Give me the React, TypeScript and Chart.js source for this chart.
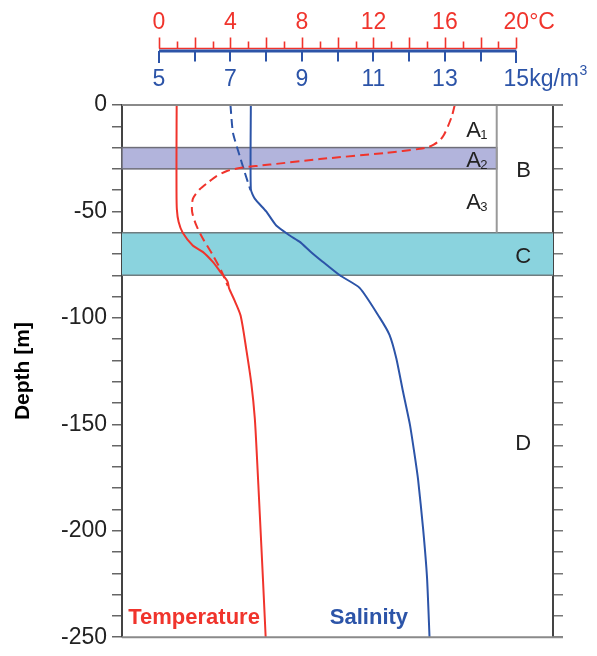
import React, { useEffect, useRef } from "react";
import { Chart, registerables } from "chart.js";

Chart.register(...registerables);

// ---- Axis ticks ----
const tempTicks = [0, 4, 8, 12, 16, 20];
const salTicks = [5, 7, 9, 11, 13, 15];

// ---- Temperature profile (solid) ----
const tempSolidDepth = [0, -20, -40, -49, -55, -60, -66, -69, -73.6, -78, -83, -86, -92, -99, -115, -131, -147, -165, -192, -223, -250];
const tempSolidValue = [0.99, 0.98, 0.98, 1.0, 1.1, 1.33, 1.89, 2.45, 3.0, 3.4, 3.84, 3.92, 4.24, 4.57, 4.89, 5.17, 5.36, 5.48, 5.64, 5.82, 5.97];

// ---- Temperature profile (dashed) ----
const tempDashDepth = [0, -5, -10, -14, -16.3, -18.5, -19.7, -20.6, -22.5, -25.4, -28, -29.5, -31, -33.5, -36, -39.6, -44, -50, -56.6, -62.8, -70.6, -78, -85];
const tempDashValue = [16.55, 16.4, 16.17, 15.95, 15.75, 15.4, 15.1, 14.6, 12.7, 9.0, 6.2, 4.6, 3.8, 3.2, 2.8, 2.28, 1.9, 1.85, 2.09, 2.46, 3.02, 3.49, 3.85];

// ---- Salinity profile (solid) ----
const salSolidDepth = [0, -39.6, -44, -50, -56.6, -61.3, -64.3, -69, -73.6, -80, -86, -100, -108, -119, -134, -150, -164, -176, -199, -222, -250];
const salSolidValue = [7.57, 7.57, 7.68, 8.0, 8.28, 8.66, 8.94, 9.25, 9.58, 10.06, 10.62, 11.18, 11.45, 11.64, 11.82, 12.02, 12.15, 12.25, 12.39, 12.5, 12.57];

// ---- Salinity profile (dashed) ----
const salDashDepth = [0, -13, -24, -31.7, -40];
const salDashValue = [7.0, 7.07, 7.26, 7.4, 7.56];

// ---- Zones (depth ranges, m) ----
const zoneA2 = [-20, -30];
const zoneB = [0, -60];
const zoneC = [-60, -80];
const zoneBEdgeTemp = 18.9; // left edge of column B in °C units

const RED = "rgb(240,52,44)";
const BLUE = "rgb(44,84,168)";
const FONT = "'Liberation Sans', Arial, Helvetica, sans-serif";

const toPts = (xs: number[], ys: number[]) => xs.map((x, i) => ({ x, y: ys[i] }));

const zonesPlugin = {
  id: "zones",
  beforeDatasetsDraw(chart: any) {
    const { ctx, chartArea, scales } = chart;
    const y = scales.y;
    const xT = scales.xT;
    const L = chartArea.left, R = chartArea.right;
    const bx = xT.getPixelForValue(zoneBEdgeTemp);
    ctx.save();
    // A2 band
    const a2t = y.getPixelForValue(zoneA2[0]);
    const a2b = y.getPixelForValue(zoneA2[1]);
    ctx.fillStyle = "rgb(178,180,220)";
    ctx.fillRect(L, a2t, bx - L, a2b - a2t);
    ctx.strokeStyle = "#6e6e78";
    ctx.lineWidth = 1.5;
    ctx.strokeRect(L, a2t, bx - L, a2b - a2t);
    // C band
    const ct = y.getPixelForValue(zoneC[0]);
    const cb = y.getPixelForValue(zoneC[1]);
    ctx.fillStyle = "rgb(138,211,222)";
    ctx.fillRect(L, ct, R - L, cb - ct);
    ctx.strokeStyle = "#6f7d80";
    ctx.beginPath();
    ctx.moveTo(L, ct); ctx.lineTo(R, ct);
    ctx.moveTo(L, cb); ctx.lineTo(R, cb);
    ctx.stroke();
    // B column edge
    ctx.strokeStyle = "#999";
    ctx.lineWidth = 2;
    ctx.beginPath();
    ctx.moveTo(bx, y.getPixelForValue(zoneB[0]));
    ctx.lineTo(bx, y.getPixelForValue(zoneB[1]));
    ctx.stroke();
    ctx.restore();
  },
  afterDatasetsDraw(chart: any) {
    const { ctx, chartArea, scales } = chart;
    const y = scales.y;
    const xT = scales.xT;
    const xS = scales.xS;
    ctx.save();
    // top / bottom frame
    ctx.strokeStyle = "#8a8a8a";
    ctx.lineWidth = 2;
    ctx.beginPath();
    ctx.moveTo(chartArea.left, chartArea.top);
    ctx.lineTo(chartArea.right + 10, chartArea.top);
    ctx.moveTo(chartArea.left, chartArea.bottom);
    ctx.lineTo(chartArea.right + 10, chartArea.bottom);
    ctx.stroke();

    // zone letters
    ctx.fillStyle = "#222";
    const drawSub = (main: string, sub: string, t: number, d: number) => {
      const px = xT.getPixelForValue(t);
      const py = y.getPixelForValue(d);
      ctx.font = `22px ${FONT}`;
      ctx.textAlign = "left";
      ctx.textBaseline = "alphabetic";
      ctx.fillText(main, px, py);
      const w = ctx.measureText(main).width;
      ctx.font = `13px ${FONT}`;
      ctx.fillText(sub, px + w - 0.5, py + 2);
    };
    drawSub("A", "1", 17.19, -14.9);
    drawSub("A", "2", 17.19, -29.0);
    drawSub("A", "3", 17.19, -49.0);
    ctx.font = `22px ${FONT}`;
    ctx.textAlign = "center";
    ctx.textBaseline = "alphabetic";
    ctx.fillText("B", xT.getPixelForValue(20.41), y.getPixelForValue(-34));
    ctx.fillText("C", xT.getPixelForValue(20.38), y.getPixelForValue(-74));
    ctx.fillText("D", xT.getPixelForValue(20.38), y.getPixelForValue(-162));

    // series labels
    ctx.font = `bold 22px ${FONT}`;
    ctx.textAlign = "left";
    ctx.fillStyle = RED;
    ctx.fillText("Temperature", xT.getPixelForValue(-1.72), y.getPixelForValue(-243.9));
    ctx.fillStyle = BLUE;
    ctx.fillText("Salinity", xS.getPixelForValue(9.78), y.getPixelForValue(-243.9));
    ctx.restore();
  },
  afterDraw(chart: any) {
    const { ctx, scales } = chart;
    const xT = scales.xT;
    const xS = scales.xS;
    const redY = 48.5;
    const blueY = 51;
    ctx.save();
    // red (temperature) axis
    const t0 = xT.getPixelForValue(tempTicks[0]);
    const t1 = xT.getPixelForValue(tempTicks[tempTicks.length - 1]);
    ctx.strokeStyle = RED;
    ctx.lineWidth = 1.6;
    ctx.beginPath();
    ctx.moveTo(t0, redY); ctx.lineTo(t1, redY);
    for (let t = tempTicks[0]; t <= tempTicks[tempTicks.length - 1]; t += 1) {
      const px = Math.round(xT.getPixelForValue(t)) + 0.5;
      const len = t % 2 === 0 ? 11 : 7;
      ctx.moveTo(px, redY);
      ctx.lineTo(px, redY - len);
    }
    ctx.stroke();
    // blue (salinity) axis
    const s0 = xS.getPixelForValue(salTicks[0]);
    const s1 = xS.getPixelForValue(salTicks[salTicks.length - 1]);
    ctx.strokeStyle = BLUE;
    ctx.lineWidth = 3;
    ctx.beginPath();
    ctx.moveTo(s0, blueY); ctx.lineTo(s1, blueY);
    ctx.stroke();
    ctx.lineWidth = 2;
    ctx.beginPath();
    for (let s = salTicks[0]; s <= salTicks[salTicks.length - 1]; s += 1) {
      const px = Math.round(xS.getPixelForValue(s));
      const end = s === salTicks[0] || s === salTicks[salTicks.length - 1] ? 12 : 10.5;
      ctx.moveTo(px, blueY);
      ctx.lineTo(px, blueY + end);
    }
    ctx.stroke();

    // labels
    ctx.font = `23px ${FONT}`;
    ctx.textBaseline = "alphabetic";
    ctx.fillStyle = RED;
    tempTicks.forEach((t, i) => {
      const px = xT.getPixelForValue(t);
      const lbl = String(t);
      ctx.textAlign = "center";
      ctx.fillText(lbl, px, 28.5);
      if (i === tempTicks.length - 1) {
        const w = ctx.measureText(lbl).width;
        ctx.textAlign = "left";
        ctx.fillText("°C", px + w / 2, 28.5);
      }
    });
    ctx.fillStyle = BLUE;
    salTicks.forEach((s, i) => {
      const px = xS.getPixelForValue(s);
      const lbl = String(s);
      ctx.textAlign = "center";
      ctx.font = `23px ${FONT}`;
      ctx.fillText(lbl, px, 85.5);
      if (i === salTicks.length - 1) {
        const w = ctx.measureText(lbl).width;
        ctx.textAlign = "left";
        const sx = px + w / 2;
        ctx.fillText("kg/m", sx, 85.5);
        const w2 = ctx.measureText("kg/m").width;
        ctx.font = `14px ${FONT}`;
        ctx.fillText("3", sx + w2 + 0.5, 75);
      }
    });
    ctx.restore();
  },
};

export default function App() {
  const ref = useRef<HTMLCanvasElement | null>(null);

  useEffect(() => {
    document.body.style.margin = "0";
    if (!ref.current) return;
    const tickFont = { family: FONT, size: 23 };
    const chart = new Chart(ref.current, {
      type: "scatter",
      data: {
        datasets: [
          {
            label: "Temperature",
            data: toPts(tempSolidValue, tempSolidDepth),
            xAxisID: "xT",
            yAxisID: "y",
            showLine: true,
            borderColor: RED,
            borderWidth: 2,
            pointRadius: 0,
            tension: 0.25,
          },
          {
            label: "Temperature (2)",
            data: toPts(tempDashValue, tempDashDepth),
            xAxisID: "xT",
            yAxisID: "y",
            showLine: true,
            borderColor: RED,
            borderWidth: 2,
            borderDash: [9, 5],
            pointRadius: 0,
            tension: 0.25,
          },
          {
            label: "Salinity",
            data: toPts(salSolidValue, salSolidDepth),
            xAxisID: "xS",
            yAxisID: "y",
            showLine: true,
            borderColor: BLUE,
            borderWidth: 2,
            pointRadius: 0,
            tension: 0.2,
          },
          {
            label: "Salinity (2)",
            data: toPts(salDashValue, salDashDepth),
            xAxisID: "xS",
            yAxisID: "y",
            showLine: true,
            borderColor: BLUE,
            borderWidth: 2,
            borderDash: [9, 5],
            pointRadius: 0,
            tension: 0.2,
          },
        ],
      },
      options: {
        animation: false,
        responsive: false,
        layout: { padding: { top: 105, bottom: 14, left: 0, right: 0 } },
        plugins: { legend: { display: false }, tooltip: { enabled: false } },
        scales: {
          xT: { type: "linear", position: "top", min: -2.07, max: 22.05, display: false },
          xS: { type: "linear", position: "top", min: 3.965, max: 16.025, display: false },
          y: {
            type: "linear",
            position: "left",
            min: -250,
            max: 0,
            afterFit: (s: any) => { s.width = 122; },
            ticks: {
              stepSize: 10,
              autoSkip: false,
              padding: 5,
              color: "#222",
              font: tickFont,
              callback: (v: any) => (Number(v) % 50 === 0 ? String(v) : ""),
            },
            grid: { drawOnChartArea: false, drawTicks: true, tickLength: 10, color: "#666", lineWidth: 1.5 },
            border: { display: true, color: "#444", width: 2 },
            title: {
              display: true,
              text: "Depth [m]",
              color: "#000",
              font: { family: FONT, size: 21, weight: "bold" },
              padding: { top: 11, bottom: 0 },
            },
          },
          y2: {
            type: "linear",
            position: "right",
            min: -250,
            max: 0,
            afterFit: (s: any) => { s.width = 44; },
            ticks: { stepSize: 10, autoSkip: false, callback: () => "" },
            grid: { drawOnChartArea: false, drawTicks: true, tickLength: 10, color: "#777", lineWidth: 1.5 },
            border: { display: true, color: "#444", width: 2 },
          },
        },
      },
      plugins: [zonesPlugin],
    } as any);
    return () => chart.destroy();
  }, []);

  return (
    <div style={{ width: 597, height: 656 }}>
      <canvas ref={ref} width={597} height={656} style={{ display: "block" }} />
    </div>
  );
}
